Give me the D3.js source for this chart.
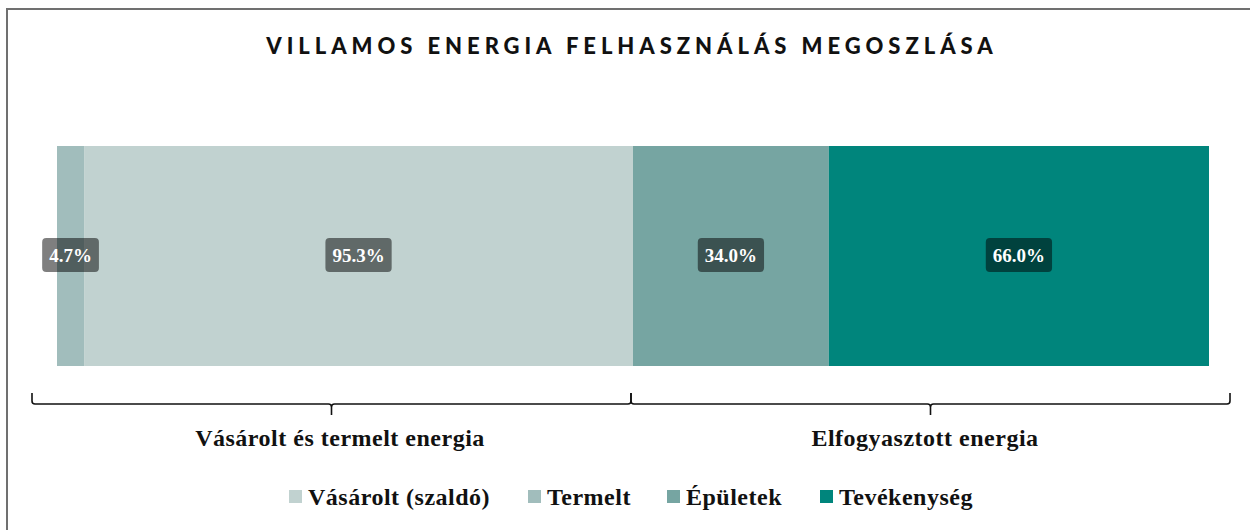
<!DOCTYPE html>
<html>
<head>
<meta charset="utf-8">
<script src="https://cdn.jsdelivr.net/npm/d3@7"></script>
<style>
  body { margin: 0; background: #fff; }
  svg { display: block; }
</style>
</head>
<body>
<script>
// data
const groups = ['Vásárolt és termelt energia', 'Elfogyasztott energia'];
const segments = [
  { group: 'Vásárolt és termelt energia', key: 'Termelt', value: 4.7 },
  { group: 'Vásárolt és termelt energia', key: 'Vásárolt (szaldó)', value: 95.3 },
  { group: 'Elfogyasztott energia', key: 'Épületek', value: 34.0 },
  { group: 'Elfogyasztott energia', key: 'Tevékenység', value: 66.0 },
];
const legendKeys = ['Vásárolt (szaldó)', 'Termelt', 'Épületek', 'Tevékenység'];
const legendColors = ['#c1d2d0', '#a1bdbc', '#76a5a2', '#00857c'];

const width = 1250;
const height = 530;
const serif = '"Liberation Serif", "DejaVu Serif", serif';

const svg = d3.select('body').append('svg')
  .attr('width', width)
  .attr('height', height);

// frame (only top and left edge visible)
svg.append('rect')
  .attr('x', 7).attr('y', 9)
  .attr('width', width + 20).attr('height', height + 20)
  .attr('fill', 'none')
  .attr('stroke', '#707070')
  .attr('stroke-width', 2);

svg.append('text')
  .attr('x', 632).attr('y', 54)
  .attr('text-anchor', 'middle')
  .style('font-family', 'Lato, "DejaVu Sans", sans-serif')
  .style('font-weight', 900)
  .style('font-size', '22px')
  .style('letter-spacing', '4.95px')
  .style('fill', '#111')
  .text('VILLAMOS ENERGIA FELHASZNÁLÁS MEGOSZLÁSA');

const color = d3.scaleOrdinal().domain(legendKeys).range(legendColors);

// bars
const xGroup = d3.scaleBand().domain(groups).range([57, 1209]).padding(0);
const xInner = d3.scaleLinear().domain([0, 100]).range([0, xGroup.bandwidth()]);
const barTop = 146;
const barHeight = 220;

const stacked = groups.flatMap((g) => {
  let acc = 0;
  return segments.filter((s) => s.group === g).map((s) => {
    const d = { ...s, x0: acc, x1: acc + s.value };
    acc += s.value;
    return d;
  });
});

const chart = svg.append('g');

chart.selectAll('rect.seg')
  .data(stacked)
  .join('rect')
  .attr('class', 'seg')
  .attr('x', (d) => xGroup(d.group) + xInner(d.x0))
  .attr('y', barTop)
  .attr('width', (d) => xInner(d.x1) - xInner(d.x0))
  .attr('height', barHeight)
  .attr('fill', (d) => color(d.key));

// value labels
const labels = chart.selectAll('g.lbl')
  .data(stacked)
  .join('g')
  .attr('class', 'lbl')
  .attr('transform', (d) => `translate(${xGroup(d.group) + xInner((d.x0 + d.x1) / 2)},${barTop + barHeight / 2 - 1})`);

labels.append('text')
  .attr('text-anchor', 'middle')
  .attr('dy', '0.35em')
  .style('font-family', serif)
  .style('font-weight', 'bold')
  .style('font-size', '19px')
  .style('fill', '#fff')
  .text((d) => `${d.value.toFixed(1)}%`);

labels.each(function () {
  const g = d3.select(this);
  const bb = g.select('text').node().getBBox();
  g.insert('rect', 'text')
    .attr('x', bb.x - 7)
    .attr('y', -17)
    .attr('width', bb.width + 14)
    .attr('height', 34)
    .attr('rx', 4)
    .attr('fill', '#000')
    .attr('fill-opacity', 0.5);
});

// group brackets
const xBrace = d3.scaleBand().domain(groups).range([32, 1230]);
const braceY = 404;

const braces = svg.selectAll('g.brace')
  .data(groups)
  .join('g')
  .attr('class', 'brace');

braces.append('path')
  .attr('d', (g) => {
    const x0 = xBrace(g);
    const x1 = x0 + xBrace.bandwidth();
    const xm = (x0 + x1) / 2;
    return `M${x0},${braceY - 11} L${x0},${braceY - 3} Q${x0},${braceY} ${x0 + 3},${braceY}`
      + ` L${xm - 3},${braceY} Q${xm},${braceY} ${xm},${braceY + 3} L${xm},${braceY + 11}`
      + ` M${xm},${braceY + 3} Q${xm},${braceY} ${xm + 3},${braceY}`
      + ` L${x1 - 3},${braceY} Q${x1},${braceY} ${x1},${braceY - 3} L${x1},${braceY - 11}`;
  })
  .attr('fill', 'none')
  .attr('stroke', '#111')
  .attr('stroke-width', 1.6);

braces.append('text')
  .attr('x', (g, i) => xGroup(g) + xGroup.bandwidth() / 2 + (i === 0 ? -5 : 4))
  .attr('y', 446)
  .attr('text-anchor', 'middle')
  .style('font-family', serif)
  .style('font-weight', 'bold')
  .style('font-size', '24px')
  .style('letter-spacing', '0.5px')
  .style('fill', '#111')
  .text((g) => g);

// legend
const legendX = [289, 528, 667, 820];
const legend = svg.selectAll('g.leg')
  .data(legendKeys)
  .join('g')
  .attr('class', 'leg')
  .attr('transform', (d, i) => `translate(${legendX[i]},497)`);

legend.append('rect')
  .attr('x', 0).attr('y', -7)
  .attr('width', 13).attr('height', 13)
  .attr('fill', (d) => color(d));

legend.append('text')
  .attr('x', 19).attr('y', 8)
  .style('font-family', serif)
  .style('font-weight', 'bold')
  .style('font-size', '24px')
  .style('letter-spacing', '0.5px')
  .style('fill', '#111')
  .text((d) => d);
</script>
</body>
</html>
